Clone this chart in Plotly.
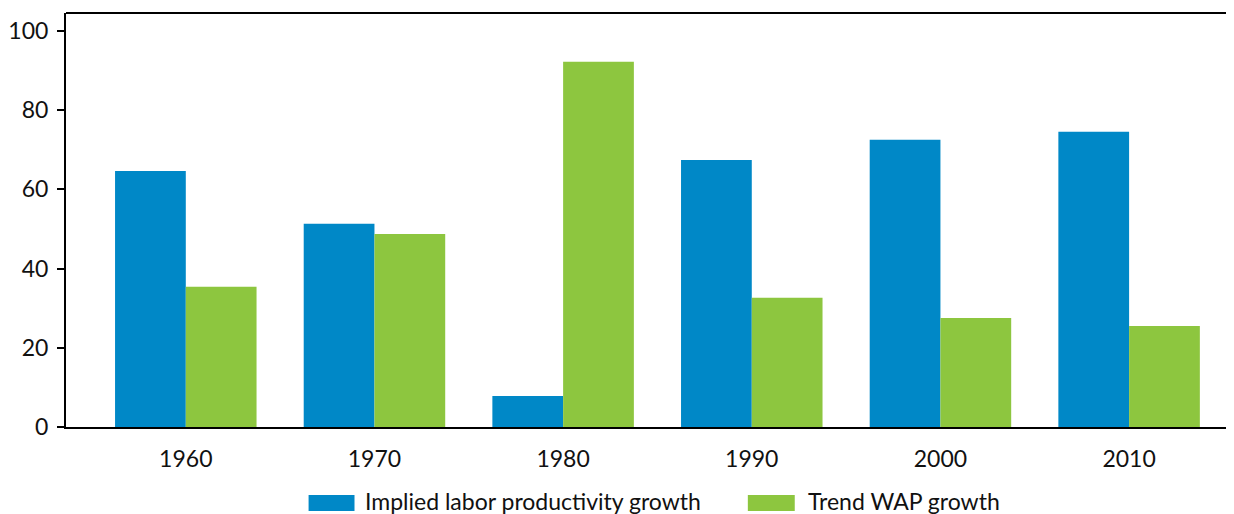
import plotly.graph_objects as go

years = ["1960", "1970", "1980", "1990", "2000", "2010"]
labor_productivity = [64.6, 51.3, 7.8, 67.4, 72.5, 74.5]
trend_wap = [35.4, 48.7, 92.2, 32.6, 27.5, 25.5]

BLUE = "#0088c7"
GREEN = "#8dc63f"
FONT = "Lato"

# the page body adds an 8px offset, so work in window pixels and subtract it
OFF = 8
W, H = 1234 - OFF, 514 - OFF
L, R, T, B = 64 - OFF, 0, 13 - OFF, 87
pw, ph = W - L - R, H - T - B


def px_x(x):
    return (x - OFF - L) / pw


def px_y(y):
    return (H + OFF - B - y) / ph


xs = list(range(len(years)))

fig = go.Figure()
fig.add_trace(go.Bar(x=xs, y=labor_productivity, name="Implied labor productivity growth",
                     marker={"color": BLUE, "line": {"width": 0}}, showlegend=False))
fig.add_trace(go.Bar(x=xs, y=trend_wap, name="Trend WAP growth",
                     marker={"color": GREEN, "line": {"width": 0}}, showlegend=False))

# hand-drawn legend (wide swatches like the original)
legend_items = [(307, 353, 362, "Implied labor productivity growth", BLUE),
                (747, 794, 805, "Trend WAP growth", GREEN)]
for x0, x1, tx, label, color in legend_items:
    fig.add_shape(type="rect", xref="paper", yref="paper",
                  x0=px_x(x0), x1=px_x(x1), y0=px_y(495), y1=px_y(511),
                  fillcolor=color, line={"width": 0})
    fig.add_annotation(xref="paper", yref="paper", x=px_x(tx), y=px_y(501),
                       text=label, showarrow=False, xanchor="left", yanchor="middle",
                       font={"size": 23, "color": "#111111", "family": FONT})

# top border line
fig.add_shape(type="line", xref="paper", yref="paper", x0=0, x1=1, y0=1, y1=1,
              line={"color": "black", "width": 2})

fig.update_layout(
    width=W, height=H,
    margin={"l": L, "r": R, "t": T, "b": B},
    barmode="group", bargap=0.25, bargroupgap=0,
    paper_bgcolor="white", plot_bgcolor="white",
    font={"family": FONT, "size": 23, "color": "#111111"},
    showlegend=False,
    xaxis={"tickmode": "array", "tickvals": xs, "ticktext": years,
           "range": [-0.635, 5.556], "showline": True, "linecolor": "black", "linewidth": 2,
           "ticks": "", "showgrid": False, "zeroline": False, "ticklabelstandoff": 10},
    yaxis={"range": [0, 104.5], "tickvals": [0, 20, 40, 60, 80, 100],
           "showline": True, "linecolor": "black", "linewidth": 2,
           "ticks": "outside", "ticklen": 7, "tickwidth": 2, "tickcolor": "black",
           "showgrid": False, "zeroline": False, "ticklabelstandoff": 4},
)

fig.write_html("out.html")
